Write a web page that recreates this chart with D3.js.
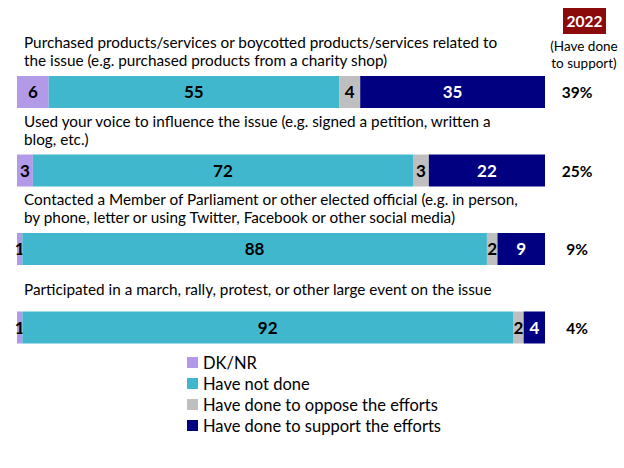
<!DOCTYPE html>
<html><head><meta charset="utf-8">
<script src="https://cdn.jsdelivr.net/npm/d3@7"></script>
<style>body{margin:0;background:#fff}svg{display:block}text{font-family:Lato,"Open Sans",sans-serif}</style>
</head><body><svg id="c" width="624" height="468"></svg>
<script>
const categories = [
  ["Purchased products/services or boycotted products/services related to","the issue (e.g. purchased products from a charity shop)"],
  ["Used your voice to influence the issue (e.g. signed a petition, written a","blog, etc.)"],
  ["Contacted a Member of Parliament or other elected official (e.g. in person,","by phone, letter or using Twitter, Facebook or other social media)"],
  ["Participated in a march, rally, protest, or other large event on the issue"]
];
const seriesNames = ["DK/NR","Have not done","Have done to oppose the efforts","Have done to support the efforts"];
const dknr    = [6, 3, 1, 1];
const notDone = [55, 72, 88, 92];
const oppose  = [4, 3, 2, 2];
const support = [35, 22, 9, 4];
const support2022 = ["39%","25%","9%","4%"];
const colors = ["#b39ae8","#41b7cd","#bfbfbf","#000080"];

const svg = d3.select("#c");
const y = d3.scaleBand().domain(d3.range(4)).range([61,375]).paddingInner(0).paddingOuter(0);
const barH = 32;
const series = [dknr, notDone, oppose, support];

categories.forEach((lines,i)=>{
  const total = d3.sum(series, s=>s[i]);
  const x = d3.scaleLinear().domain([0,total]).range([17,545]);
  const y0 = y(i) + 15;
  let cum = 0;
  series.forEach((s,k)=>{
    const v = s[i];
    svg.append("rect").attr("x",x(cum)).attr("y",y0).attr("width",x(cum+v)-x(cum)).attr("height",barH).attr("fill",colors[k]);
    svg.append("text").attr("x",(x(cum)+x(cum+v))/2).attr("y",y0+barH/2+6)
      .attr("text-anchor","middle").attr("font-size",17).attr("font-weight","bold")
      .attr("fill",k===3?"#fff":"#000").text(v);
    cum += v;
  });
  svg.append("text").attr("x",577).attr("y",y0+barH/2+6).attr("text-anchor","middle")
    .attr("font-size",15.5).attr("font-weight","bold").text(support2022[i]);
  const ly = lines.length===2 ? [y0-28,y0-10] : [y0-17];
  lines.forEach((l,j)=>svg.append("text").attr("x",24).attr("y",ly[j]).attr("font-size",15.3).attr("fill","#000").text(l));
});

svg.append("rect").attr("x",563).attr("y",8).attr("width",43).attr("height",26).attr("fill","#8b0b0b");
svg.append("text").attr("x",584.5).attr("y",27).attr("text-anchor","middle").attr("font-size",15.5).attr("font-weight","bold").attr("fill","#fff").text("2022");
svg.append("text").attr("x",584).attr("y",51).attr("text-anchor","middle").attr("font-size",13.5).text("(Have done");
svg.append("text").attr("x",584).attr("y",68).attr("text-anchor","middle").attr("font-size",13.5).text("to support)");

const lg = svg.append("g");
seriesNames.forEach((n,k)=>{
  const ly = 363 + k*21;
  lg.append("rect").attr("x",187).attr("y",ly-6).attr("width",11).attr("height",11).attr("fill",colors[k]);
  lg.append("text").attr("x",203).attr("y",ly+6).attr("font-size",16.5).text(n);
});
</script></body></html>
